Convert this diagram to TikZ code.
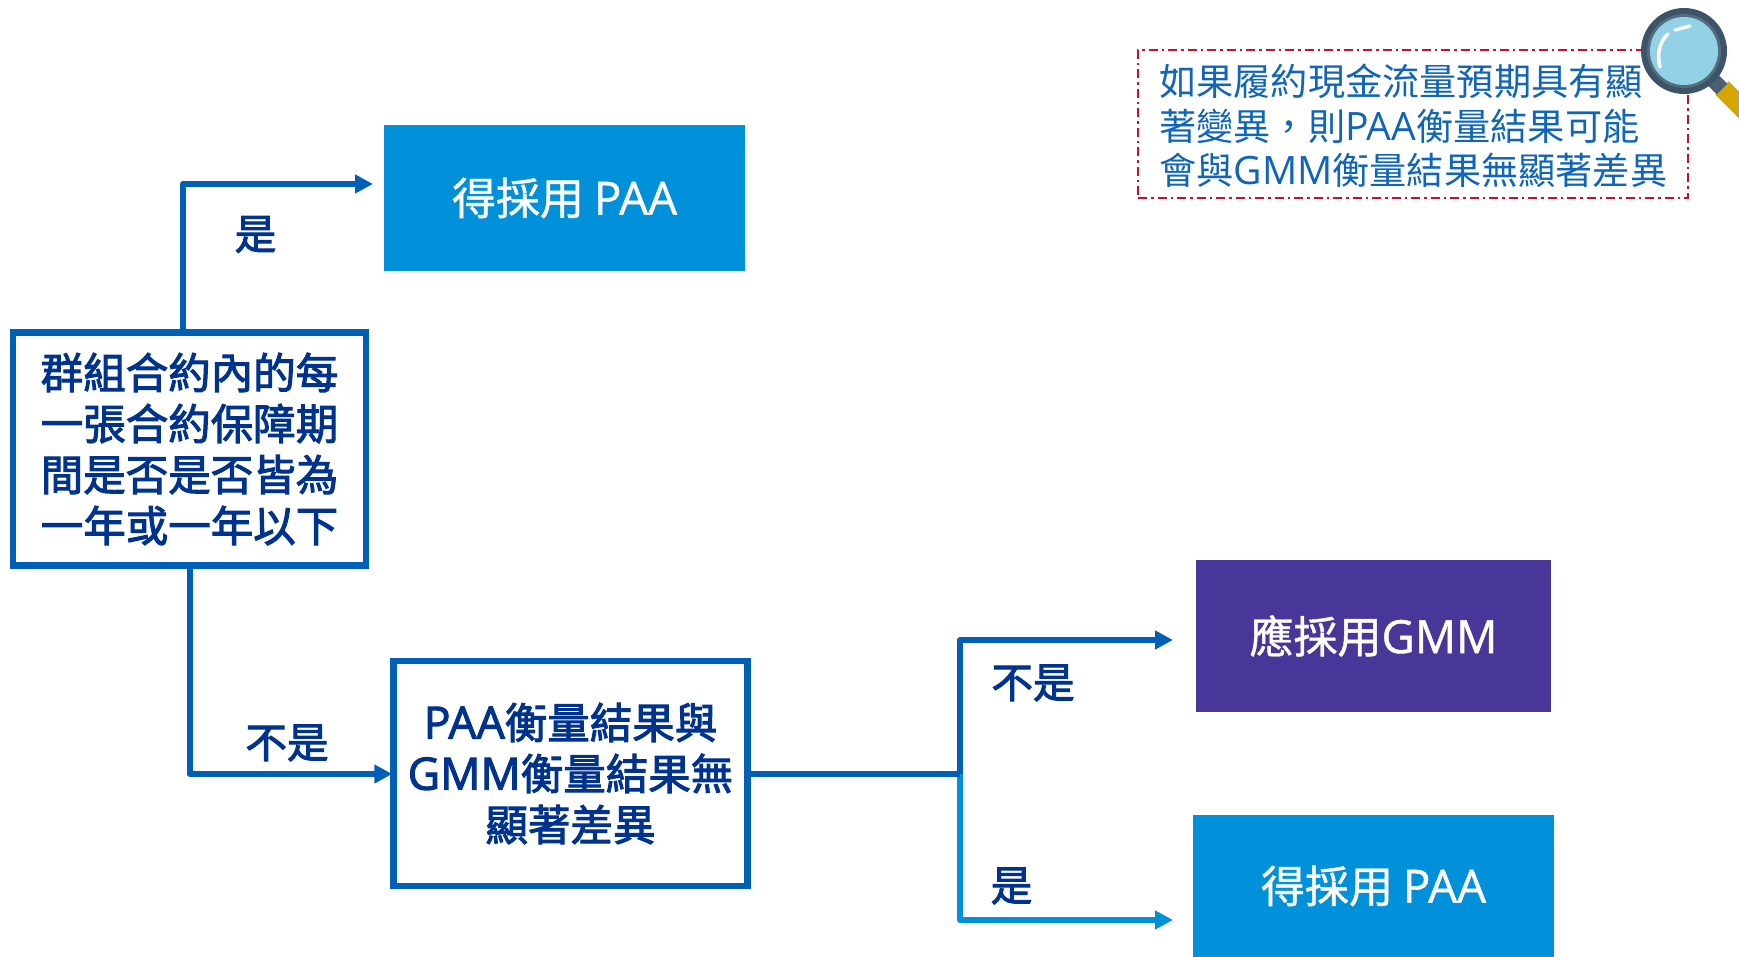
\documentclass[tikz,border=0pt]{standalone}
\usepackage{fontspec}
\setmainfont{Noto Sans CJK TC}
\newfontfamily\lat[Scale=1.05]{Open Sans}
\newfontfamily\cjkm[FakeBold=2.4]{Noto Sans CJK TC}
\newfontfamily\latm[FakeBold=2.4,Scale=1.05]{Open Sans}
\newfontfamily\cjkw[FakeBold=1]{Noto Sans CJK TC}
\newfontfamily\latw[FakeBold=1,Scale=1.04]{Open Sans}
\usetikzlibrary{arrows.meta}
\definecolor{line}{HTML}{0060B8}
\definecolor{lineb}{HTML}{0091DA}
\definecolor{boxb}{HTML}{0091DA}
\definecolor{boxp}{HTML}{483698}
\definecolor{dk}{HTML}{00338D}
\definecolor{note}{HTML}{0F65BA}
\definecolor{redd}{HTML}{C8102E}
\definecolor{handle}{HTML}{D6A600}
\definecolor{neck}{HTML}{4C6074}
\definecolor{ringa}{HTML}{3D5468}
\definecolor{ringb}{HTML}{546C80}
\definecolor{lens}{HTML}{93D2E6}
\tikzset{x=1pt,y=-1pt,
 solidbox/.style={draw=none,inner sep=0pt,text=white,align=center,font=\fontsize{44}{48}\cjkw},
 qbox/.style={draw=line,line width=6.5pt,fill=white,inner sep=0pt,align=center,text=dk,font=\fontsize{42.5}{51}\cjkm},
 lbl/.style={text=dk,inner sep=0pt,font=\fontsize{41.6}{50}\cjkm},
 conn/.style={draw=line,line width=6pt,line join=round},
 connb/.style={draw=lineb,line width=6pt,line join=round},
 tip/.style={-{Triangle[length=18pt,width=18pt]}},
}
\begin{document}
\begin{tikzpicture}
\useasboundingbox (0,0) rectangle (1739,957);
% boxes
\node[solidbox,fill=boxb,minimum width=361pt,minimum height=146pt] (paaA) at (564.5,198) {\raisebox{1pt}{得採用 {\latw PAA}}};
\node[qbox,minimum width=353pt,minimum height=233pt] (dec) at (189.5,449) {\raisebox{1pt}{群組合約內的每}\\\raisebox{1pt}{一張合約保障期}\\\raisebox{1pt}{間是否是否皆為}\\\raisebox{1pt}{一年或一年以下}};
\node[qbox,minimum width=354pt,minimum height=225pt] (cmp) at (570.5,773.5) {{\latm PAA}衡量結果與\\{\latm GMM}衡量結果無\\顯著差異};
\node[solidbox,fill=boxp,minimum width=355pt,minimum height=152pt] (gmm) at (1373.5,636) {\raisebox{1pt}{應採用{\latw GMM}}};
\node[solidbox,fill=boxb,minimum width=361pt,minimum height=142pt] (paaB) at (1373.5,886) {得採用 {\latw PAA}};
% free ends
\coordinate (t1) at (373,184);
\coordinate (up) at (183,184);
\coordinate (j) at (960,774);
\coordinate (t2) at (1173,640);
\coordinate (t3) at (1173,920);
% connectors
\draw[connb,tip] (j) |- (t3);
\draw[conn,tip] (dec.north -| up) -- (up) -- (t1);
\draw[conn,tip,shorten >=-2pt] (dec.south) |- (cmp.west |- j);
\draw[conn] (cmp.east |- j) -- (j);
\draw[conn,tip] (j) |- (t2);
% labels
\node[lbl] (l1) at (255.5,234.5) {是};
\node[lbl] (l2) at (287,743) {不是};
\node[lbl] (l3) at (1033,683) {不是};
\node[lbl] (l4) at (1011.5,886) {是};
% note
\node[draw=redd,line width=2pt,dash pattern=on 9pt off 4pt on 2.5pt off 4pt,minimum width=550pt,minimum height=148pt,inner sep=0pt] (frame) at (1413,124) {};
\node[anchor=west,align=left,text=note,inner sep=0pt,font=\fontsize{37.2}{44.5}\selectfont] (txt) at (1159,126) {如果履約現金流量預期具有顯\\著變異，則{\lat PAA}衡量結果可能\\會與{\lat GMM}衡量結果無顯著差異};
% magnifier
\draw[line width=19pt,handle] (1722,88) -- (1760,126);
\draw[line width=15pt,neck] (1711,78) -- (1722,89);
\fill[ringa] (1684,51) circle (43);
\fill[ringb] (1684,51) circle (37);
\fill[lens] (1684,51) circle (34);
\draw[white,line width=3.5pt,line cap=round] (1660,67) .. controls (1656,52) and (1661,40) .. (1668,34);
\draw[white,line width=3.5pt,line cap=round] (1675,30) -- (1690,26);
\end{tikzpicture}
\end{document}
